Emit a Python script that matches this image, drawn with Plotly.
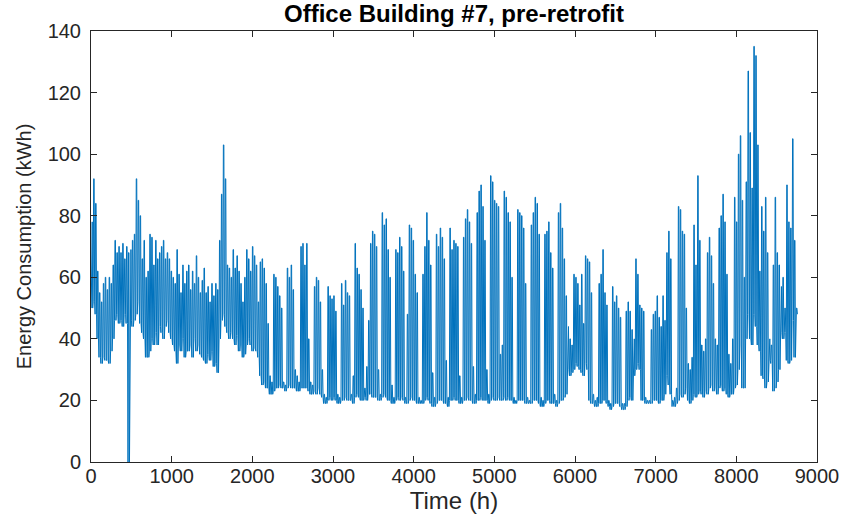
import plotly.graph_objects as go

# Daily peak and trough of hourly energy use (kWh), day 0..364
daily_high = [
    78,
    92, 84, 62, 55, 52, 58, 60,
    56, 60, 58, 64, 72, 68, 70,
    68, 71, 66, 70, 68, 69, 72,
    74, 92, 85, 80, 66, 72, 60,
    62, 74, 73, 64, 72, 66, 68,
    70, 72, 66, 68, 66, 62, 60,
    58, 69, 61, 55, 64, 58, 62,
    64, 56, 62, 58, 67, 60, 55,
    59, 63, 55, 57, 52, 58, 54,
    58, 56, 72, 87, 103, 92, 64,
    63, 60, 69, 63, 67, 62, 58,
    52, 60, 69, 66, 62, 70, 67,
    64, 52, 65, 66, 63, 58, 45,
    28, 26, 61, 60, 57, 54, 50,
    26, 25, 63, 60, 64, 56, 30,
    28, 26, 70, 71, 64, 71, 40,
    26, 25, 57, 60, 59, 52, 30,
    22, 21, 57, 54, 53, 54, 49,
    22, 21, 58, 51, 59, 55, 54,
    22, 28, 71, 63, 61, 56, 50,
    24, 31, 46, 71, 75, 74, 70,
    30, 22, 81, 77, 79, 69, 60,
    25, 21, 69, 68, 73, 70, 62,
    21, 48, 77, 76, 72, 61, 55,
    21, 20, 61, 70, 81, 72, 64,
    29, 21, 74, 70, 76, 73, 66,
    33, 21, 76, 69, 72, 71, 70,
    28, 21, 73, 79, 82, 78, 71,
    31, 22, 81, 88, 90, 83, 72,
    30, 22, 93, 91, 85, 84, 83,
    35, 38, 88, 86, 81, 78, 60,
    21, 20, 82, 81, 80, 76, 58,
    21, 20, 77, 81, 86, 84, 74,
    21, 20, 74, 75, 78, 68, 63,
    22, 20, 81, 84, 76, 66, 54,
    44, 40, 38, 61, 60, 58, 51,
    61, 45, 67, 66, 65, 55, 22,
    20, 21, 58, 61, 69, 55, 51,
    20, 19, 57, 52, 54, 50, 47,
    19, 19, 49, 52, 49, 43, 40,
    66, 61, 51, 50, 49, 21, 20,
    20, 43, 48, 49, 54, 47, 44,
    54, 46, 68, 75, 66, 20, 21,
    24, 83, 82, 75, 74, 50, 32,
    30, 34, 77, 64, 93, 72, 38,
    36, 40, 68, 73, 67, 58, 40,
    38, 76, 80, 87, 78, 61, 35,
    32, 40, 86, 78, 100, 106, 85,
    60, 91, 127, 107, 89, 135, 132,
    103, 62, 83, 75, 86, 68, 40,
    38, 64, 86, 68, 64, 57, 60,
    50, 90, 78, 76, 105, 72, 50,
]

daily_low = [
    50,
    52, 48, 40, 34, 32, 34, 33,
    33, 32, 36, 40, 46, 48, 45,
    46, 44, 48, 45, 0, 46, 44,
    46, 48, 52, 45, 42, 40, 34,
    34, 36, 40, 38, 42, 38, 44,
    42, 40, 44, 46, 42, 40, 38,
    36, 32, 38, 36, 40, 34, 36,
    36, 38, 34, 40, 36, 38, 35,
    34, 33, 32, 35, 33, 36, 31,
    32, 29, 40, 46, 48, 44, 42,
    40, 42, 40, 38, 41, 36, 38,
    34, 35, 38, 40, 38, 36, 37,
    36, 34, 28, 25, 26, 24, 24,
    22, 22, 23, 24, 24, 25, 24,
    24, 23, 24, 25, 24, 24, 24,
    23, 23, 24, 24, 24, 24, 23,
    22, 22, 23, 22, 24, 22, 21,
    19, 19, 20, 21, 20, 21, 20,
    19, 19, 20, 20, 21, 20, 20,
    20, 19, 21, 22, 21, 20, 20,
    21, 20, 22, 22, 21, 21, 21,
    20, 20, 21, 22, 21, 20, 20,
    19, 19, 20, 21, 20, 21, 20,
    19, 19, 20, 21, 20, 20, 19,
    19, 19, 19, 20, 21, 20, 19,
    18, 18, 19, 20, 20, 20, 19,
    19, 18, 20, 20, 21, 20, 20,
    19, 19, 20, 20, 21, 20, 20,
    19, 19, 20, 20, 21, 20, 20,
    20, 19, 20, 21, 20, 20, 21,
    20, 20, 21, 20, 21, 20, 20,
    19, 19, 20, 20, 20, 20, 19,
    19, 19, 19, 20, 20, 20, 19,
    18, 18, 19, 20, 20, 19, 19,
    19, 18, 19, 20, 20, 21, 22,
    30, 28, 29, 30, 32, 31, 30,
    29, 28, 32, 30, 20, 19, 19,
    18, 18, 19, 19, 20, 20, 19,
    18, 17, 18, 19, 19, 19, 18,
    17, 17, 18, 20, 21, 20, 28,
    30, 32, 30, 20, 20, 19, 19,
    19, 19, 20, 20, 20, 19, 20,
    20, 22, 28, 25, 22, 18, 18,
    19, 20, 22, 21, 22, 24, 20,
    19, 20, 22, 21, 22, 23, 22,
    21, 23, 22, 24, 25, 23, 24,
    22, 24, 25, 23, 24, 22, 21,
    22, 22, 24, 25, 30, 38, 24,
    24, 40, 48, 40, 38, 48, 44,
    38, 36, 28, 27, 24, 26, 33,
    32, 23, 24, 26, 30, 42, 40,
    42, 33, 32, 33, 46, 34, 48,
]

# hours of the day at which the night trough and the daytime plateau are placed
NIGHT_HOURS = (3, 21)
DAY_HOURS = (9, 15)

hours = []
energy = []
for day, (lo, hi) in enumerate(zip(daily_low, daily_high)):
    hours += [24 * day + NIGHT_HOURS[0], 24 * day + DAY_HOURS[0],
              24 * day + DAY_HOURS[1], 24 * day + NIGHT_HOURS[1]]
    energy += [lo, hi, hi, lo]

axis_color = "#262626"
font_family = "Liberation Sans, Arial, Helvetica, sans-serif"

fig = go.Figure()
fig.add_trace(go.Scatter(
    x=hours,
    y=energy,
    mode="lines",
    line=dict(color="#0072BD", width=1),
    showlegend=False,
    hoverinfo="x+y",
))

axis_common = dict(
    automargin=False,
    showgrid=False,
    zeroline=False,
    showline=True,
    mirror="ticks",
    linecolor=axis_color,
    linewidth=1,
    ticks="inside",
    ticklen=6,
    tickcolor=axis_color,
    tickfont=dict(size=20, color=axis_color, family=font_family),
)

fig.update_layout(
    width=843,
    height=517,
    margin=dict(l=91, r=26, t=31, b=55),
    paper_bgcolor="white",
    plot_bgcolor="white",
    font=dict(family=font_family, color=axis_color),
    title=dict(
        text="<b>Office Building #7, pre-retrofit</b>",
        x=0.5, xref="paper", xanchor="center",
        y=1, yref="paper", yanchor="bottom",
        pad=dict(b=9),
        font=dict(size=24, color="black", family=font_family),
    ),
    xaxis=dict(
        range=[0, 9000],
        dtick=1000,
        ticklabelstandoff=-4,
        title=dict(text="Time (h)", font=dict(size=24, color=axis_color), standoff=2),
        **axis_common,
    ),
    yaxis=dict(
        range=[0, 140],
        dtick=20,
        ticklabelstandoff=5,
        title=dict(text="Energy Consumption (kWh)", font=dict(size=20, color=axis_color), standoff=10),
        **axis_common,
    ),
)

# drop the default 8px body margin so the 843x517 figure fills the window exactly
fig.write_html(
    "out.html",
    config={"displayModeBar": False},
    post_script="document.body.style.margin = '0';",
)
